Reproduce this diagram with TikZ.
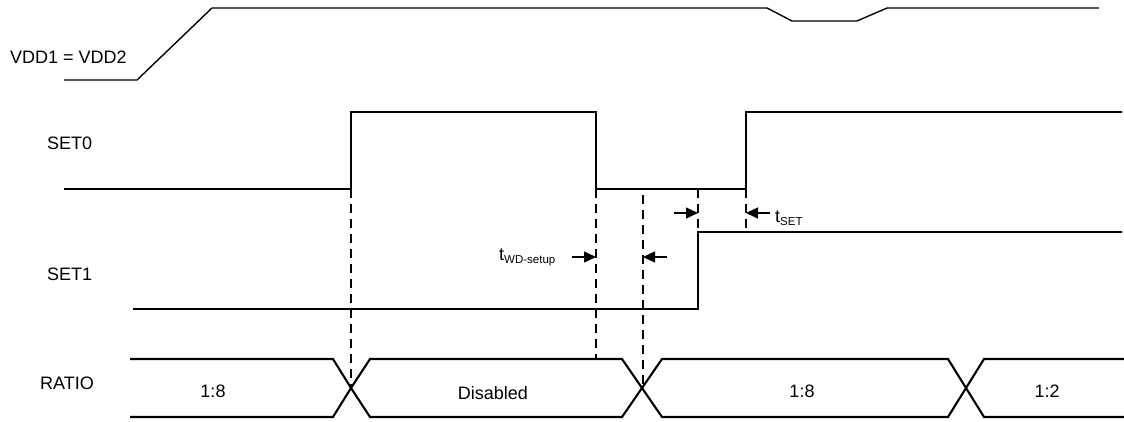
\documentclass[tikz,border=0pt]{standalone}
\usepackage{fontspec}
\setmainfont{Liberation Sans}
\usetikzlibrary{arrows.meta}
\begin{document}
\begin{tikzpicture}[x=1pt,y=-1pt,
  sig/.style={line width=1.4pt, line join=miter},
  bus/.style={line width=2.1pt, line join=miter},
  guide/.style={line width=1.2pt, dash pattern=on 9pt off 6pt},
  lbl/.style={font=\fontsize{18}{20}\selectfont, inner sep=0pt},
  val/.style={font=\fontsize{18}{20}\selectfont, inner sep=0pt},
  timing/.style={font=\fontsize{18}{20}\selectfont, inner sep=0pt, anchor=base west},
  marker/.style={line width=1.4pt, -{Triangle[length=12pt,width=11pt]}}]
\useasboundingbox (0,0) rectangle (1124,421);
\newcommand{\subtxt}[1]{\raisebox{-3pt}{\fontsize{11.5}{12}\selectfont #1}}

% signal labels
\node[lbl, anchor=west] (vddl) at (10,57) {VDD1 = VDD2};
\node[lbl, anchor=west] (set0l) at (47,143) {SET0};
\node[lbl, anchor=west] (set1l) at (47,274) {SET1};
\node[lbl, anchor=west] (ratiol) at (40,383) {RATIO};

% VDD waveform
\draw[sig] (64,80) -- (137,80) -- (212,8) -- (767,8) -- (792,21) -- (857,21) -- (887,8) -- (1099,8);

% SET0 waveform
\draw[sig] (64,189) -- (351,189) -- (351,112) -- (596,112) -- (596,189) -- (746,189) -- (746,112) -- (1122,112);

% SET1 waveform
\draw[sig] (133,309) -- (698,309) -- (698,232) -- (1122,232);

% guide lines
\draw[guide] (351,189) -- (351,388);
\draw[guide] (596,189) -- (596,359);
\draw[guide] (643,195) -- (643,388);
\draw[guide] (698,189) -- (698,232);
\draw[guide] (746,189) -- (746,232);

% RATIO bus
\draw[bus] (130,359) -- (333,359) -- (351,388) -- (333,417) -- (130,417);
\draw[bus] (370,359) -- (622,359) -- (642,388) -- (622,417) -- (370,417) -- (351,388) -- cycle;
\draw[bus] (662,359) -- (948,359) -- (966,388) -- (948,417) -- (662,417) -- (642,388) -- cycle;
\draw[bus] (1124,359) -- (984,359) -- (966,388) -- (984,417) -- (1124,417);

\node[val] (v1) at (213,391) {1:8};
\node[val] (v2) at (493,393) {Disabled};
\node[val] (v3) at (802,391) {1:8};
\node[val] (v4) at (1047,391) {1:2};

% timing markers
\coordinate (wdA) at (572,257);
\coordinate (wdAt) at (596,257);
\coordinate (wdB) at (667,257);
\coordinate (wdBt) at (643,257);
\coordinate (stA) at (674,213);
\coordinate (stAt) at (698,213);
\coordinate (stB) at (770,213);
\coordinate (stBt) at (746,213);
\draw[marker] (wdA) -- (wdAt);
\draw[marker] (wdB) -- (wdBt);
\draw[marker] (stA) -- (stAt);
\draw[marker] (stB) -- (stBt);

\node[timing] (twd) at (499,260) {t\subtxt{WD-setup}};
\node[timing] (tset) at (775,222) {t\subtxt{SET}};
\end{tikzpicture}
\end{document}
